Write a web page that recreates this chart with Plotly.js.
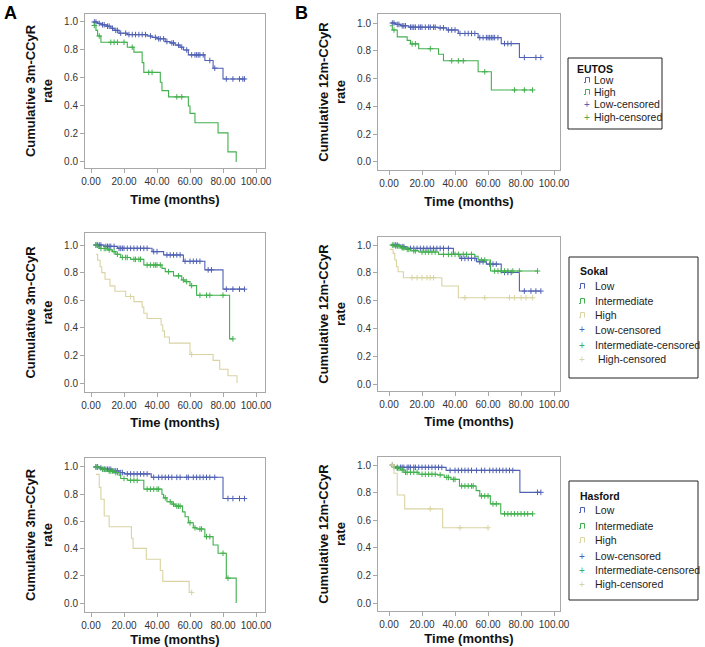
<!DOCTYPE html>
<html><head><meta charset="utf-8">
<script src="https://cdn.plot.ly/plotly-3.0.1.min.js"></script>
<style>html,body{margin:0;padding:0;background:#fff}</style>
</head><body><div id="chart" style="width:705px;height:647px"></div>
<script>
// ---------- DATA (time in months, cumulative rate) ----------
// Panel A top: EUTOS, 3m-CCyR
const eutos3_low_t  = [1, 4, 6, 9, 12, 14, 17, 22, 34, 37, 40, 45, 48, 51, 54, 56, 59, 69, 74, 80];
const eutos3_low_s  = [1.00, 0.99, 0.98, 0.97, 0.955, 0.94, 0.92, 0.91, 0.90, 0.89, 0.88, 0.86, 0.85, 0.835, 0.82, 0.80, 0.765, 0.725, 0.67, 0.593];
const eutos3_low_c  = [2, 3, 5, 7, 8, 10, 11, 13, 15, 16, 18, 21, 23, 25, 27, 29, 31, 33, 36, 39, 41, 42, 44, 46, 49, 50, 53, 55, 58, 61, 63, 64, 65, 66, 68, 72, 75, 82, 86, 90, 92, 93];
const eutos3_high_t = [1, 3, 4, 6, 22, 26, 31, 32, 42, 43, 47, 59, 60, 63, 77, 83, 88];
const eutos3_high_s = [0.975, 0.94, 0.90, 0.855, 0.82, 0.785, 0.71, 0.64, 0.57, 0.51, 0.465, 0.40, 0.347, 0.28, 0.208, 0.072, 0.0];
const eutos3_high_c = [2, 5, 12, 14, 16, 20, 25, 35, 37, 52, 55];

// Panel B top: EUTOS, 12m-CCyR
const eutos12_low_t  = [1, 4, 7, 12, 30, 35, 42, 54, 68, 79];
const eutos12_low_s  = [1.00, 0.99, 0.98, 0.97, 0.965, 0.95, 0.925, 0.895, 0.852, 0.752];
const eutos12_low_c  = [2, 3, 5, 6, 8, 9, 10, 13, 14, 15, 16, 18, 19, 20, 22, 24, 25, 27, 28, 31, 33, 36, 38, 40, 43, 46, 48, 50, 52, 55, 57, 59, 60, 61, 62, 63, 64, 66, 70, 72, 74, 82, 89, 92];
const eutos12_high_t = [0.5, 2, 5, 11, 13, 18, 30, 33, 54, 62];
const eutos12_high_s = [0.98, 0.95, 0.90, 0.875, 0.85, 0.815, 0.775, 0.728, 0.649, 0.518];
const eutos12_high_c = [3, 14, 16, 25, 38, 42, 45, 58, 76, 82, 87];

// Panel A middle: Sokal, 3m-CCyR
const sokal3_low_t  = [2, 8, 16, 37, 44, 56, 69, 80];
const sokal3_low_s  = [1.0, 0.99, 0.976, 0.952, 0.928, 0.882, 0.82, 0.68];
const sokal3_low_c  = [3, 4, 5, 6, 9, 10, 11, 12, 14, 17, 18, 19, 20, 22, 24, 26, 28, 30, 32, 34, 38, 40, 46, 48, 50, 52, 54, 57, 60, 62, 64, 66, 71, 73, 82, 86, 90, 93];
const sokal3_int_t  = [2, 4, 5, 10, 13, 15, 18, 24, 32, 43, 45, 50, 55, 57, 60, 64, 84];
const sokal3_int_s  = [1.0, 0.988, 0.975, 0.965, 0.952, 0.933, 0.91, 0.896, 0.855, 0.831, 0.807, 0.776, 0.747, 0.735, 0.706, 0.636, 0.32];
const sokal3_int_c  = [3, 6, 8, 9, 11, 14, 16, 19, 21, 22, 26, 27, 29, 30, 34, 36, 38, 39, 40, 42, 47, 53, 56, 58, 61, 66, 70, 72, 80, 86];
const sokal3_high_t = [3, 4, 5.5, 6.5, 8.5, 11.5, 14.5, 21, 26, 31, 32, 34, 42.5, 43.5, 44.5, 47.5, 60, 74, 78, 83, 88.5];
const sokal3_high_s = [0.933, 0.89, 0.843, 0.80, 0.752, 0.704, 0.665, 0.627, 0.59, 0.55, 0.506, 0.467, 0.42, 0.378, 0.333, 0.289, 0.207, 0.164, 0.10, 0.053, 0.0];
const sokal3_high_c = [24, 61];

// Panel B middle: Sokal, 12m-CCyR
const sokal12_low_t  = [1, 7, 11, 39, 43, 53, 59, 68, 79];
const sokal12_low_s  = [1.0, 0.988, 0.976, 0.933, 0.904, 0.88, 0.863, 0.803, 0.669];
const sokal12_low_c  = [3, 4, 5, 8, 9, 13, 15, 17, 19, 21, 23, 25, 27, 29, 31, 33, 36, 44, 46, 48, 50, 52, 55, 57, 61, 63, 65, 70, 72, 74, 82, 86, 89, 92];
const sokal12_int_t  = [1, 3, 7, 10, 13, 18, 30, 52, 54, 61.5];
const sokal12_int_s  = [1.0, 0.993, 0.98, 0.969, 0.959, 0.95, 0.933, 0.92, 0.892, 0.813];
const sokal12_int_c  = [2, 4, 5, 6, 8, 9, 11, 12, 15, 16, 20, 22, 24, 26, 28, 33, 36, 38, 40, 42, 45, 47, 50, 56, 58, 64, 66, 68, 70, 72, 75, 79, 90];
const sokal12_high_t = [0.5, 2.5, 3.5, 4.5, 5.5, 8.7, 32, 42];
const sokal12_high_s = [0.969, 0.94, 0.892, 0.844, 0.808, 0.765, 0.705, 0.621];
const sokal12_high_c = [14, 17, 20, 23, 25, 27, 46, 58, 73, 76, 80, 83, 87];

// Panel A bottom: Hasford, 3m-CCyR
const hasford3_low_t  = [2, 5, 7, 13, 17, 20, 36.5, 80];
const hasford3_low_s  = [1.0, 0.993, 0.983, 0.971, 0.959, 0.949, 0.924, 0.768];
const hasford3_low_c  = [3, 4, 6, 8, 9, 10, 11, 12, 14, 15, 16, 18, 19, 22, 24, 26, 28, 30, 32, 34, 38, 41, 43, 45, 47, 49, 52, 54, 58, 59, 62, 64, 66, 68, 70, 72, 75, 83, 86, 90, 93];
const hasford3_int_t  = [2, 5.5, 9.5, 14.5, 17, 18, 22, 32, 43, 44, 46, 49, 51, 55.5, 57, 59, 62, 64, 69, 74, 77, 82, 88];
const hasford3_int_s  = [1.0, 0.983, 0.97, 0.959, 0.94, 0.915, 0.902, 0.837, 0.80, 0.773, 0.744, 0.727, 0.712, 0.67, 0.634, 0.59, 0.553, 0.544, 0.488, 0.427, 0.366, 0.183, 0.0];
const hasford3_int_c  = [3, 4, 7, 8, 11, 12, 13, 15, 16, 20, 24, 26, 28, 34, 36, 38, 40, 41, 45, 48, 50, 52, 53, 54, 60, 63, 66, 67, 70, 72, 80, 83];
const hasford3_high_t = [3, 5, 6, 8, 11, 24.5, 25.5, 33.5, 42, 43.5, 59.5];
const hasford3_high_s = [0.946, 0.85, 0.763, 0.64, 0.561, 0.476, 0.402, 0.322, 0.239, 0.159, 0.078];
const hasford3_high_c = [61];

// Panel B bottom: Hasford, 12m-CCyR
const hasford12_low_t  = [1, 3, 34.6, 79.3];
const hasford12_low_s  = [1.0, 0.983, 0.961, 0.802];
const hasford12_low_c  = [2, 5, 7, 8, 9, 11, 12, 13, 15, 16, 18, 20, 22, 24, 26, 28, 30, 32, 37, 40, 42, 44, 46, 48, 50, 53, 56, 58, 61, 63, 65, 67, 69, 71, 73, 75, 90, 92];
const hasford12_int_t  = [1, 2, 4.7, 7, 9, 18, 29.5, 33.5, 37.5, 42.7, 52.8, 55, 61.4, 67.7];
const hasford12_int_s  = [1.0, 0.988, 0.976, 0.964, 0.947, 0.933, 0.928, 0.91, 0.896, 0.848, 0.814, 0.776, 0.718, 0.646];
const hasford12_int_c  = [3, 5, 6, 8, 10, 11, 13, 15, 17, 20, 22, 24, 26, 28, 31, 35, 36, 39, 40, 44, 46, 48, 50, 51, 56, 58, 60, 63, 65, 70, 72, 74, 76, 78, 80, 82, 84, 87];
const hasford12_high_t = [1, 3, 5, 9.5, 32.5];
const hasford12_high_s = [1.0, 0.94, 0.783, 0.682, 0.545];
const hasford12_high_c = [2, 25, 43, 60];

const xTicks = [0, 20, 40, 60, 80, 100];
const yTicks = [0, 0.2, 0.4, 0.6, 0.8, 1.0];
const xTitle = 'Time (months)';
const yTitle3 = 'Cumulative 3m-CCyR<br>rate';
const yTitle12 = 'Cumulative 12m-CCyR<br>rate';

// ---------- STYLE ----------
const C = {low: '#5061b3', int: '#42b04e', high: '#d9d4a2'};
const W = 705, H = 647;
const FONT = 'Arial, "Liberation Sans", sans-serif';
const px = x => x / W;
const py = y => 1 - y / H;

function stepAt(t, s, c) {
  let v = s[0];
  for (let i = 0; i < t.length; i++) if (t[i] <= c) v = s[i];
  return v;
}

const traces = [];
function addGroup(t, s, c, color, xa, ya) {
  const end = Math.max(t[t.length - 1], ...c);
  traces.push({type: 'scatter', mode: 'lines', x: t.concat([end]), y: s.concat([s[s.length - 1]]),
    line: {shape: 'hv', color: color, width: 1.1}, xaxis: xa, yaxis: ya, showlegend: false, hoverinfo: 'skip'});
  traces.push({type: 'scatter', mode: 'markers', x: c, y: c.map(v => stepAt(t, s, v)),
    marker: {symbol: 'cross-thin', size: 4, color: color, line: {color: color, width: 1}},
    xaxis: xa, yaxis: ya, showlegend: false, hoverinfo: 'skip'});
}

const panels = [
  {n: 1, xd: [85, 265], yd: [14, 168], xr: [-3.64, 105.45], yr: [-0.043, 1.057], yt: yTitle3, xs: 8, ys: 8,
   groups: [[eutos3_low_t, eutos3_low_s, eutos3_low_c, C.low], [eutos3_high_t, eutos3_high_s, eutos3_high_c, C.int]]},
  {n: 2, xd: [378, 560], yd: [14, 170], xr: [-6.67, 103.6], yr: [-0.058, 1.065], yt: yTitle12, xs: 8, ys: 8,
   groups: [[eutos12_low_t, eutos12_low_s, eutos12_low_c, C.low], [eutos12_high_t, eutos12_high_s, eutos12_high_c, C.int]]},
  {n: 3, xd: [85, 265], yd: [233, 392], xr: [-3.64, 105.45], yr: [-0.065, 1.087], yt: yTitle3, xs: 7, ys: 8,
   groups: [[sokal3_low_t, sokal3_low_s, sokal3_low_c, C.low], [sokal3_int_t, sokal3_int_s, sokal3_int_c, C.int], [sokal3_high_t, sokal3_high_s, sokal3_high_c, C.high]]},
  {n: 4, xd: [378, 560], yd: [237, 391], xr: [-6.67, 103.6], yr: [-0.05, 1.058], yt: yTitle12, xs: 7, ys: 8,
   groups: [[sokal12_low_t, sokal12_low_s, sokal12_low_c, C.low], [sokal12_int_t, sokal12_int_s, sokal12_int_c, C.int], [sokal12_high_t, sokal12_high_s, sokal12_high_c, C.high]]},
  {n: 5, xd: [85, 265], yd: [458, 612], xr: [-3.64, 105.45], yr: [-0.066, 1.066], yt: yTitle3, xs: 4, ys: 8,
   groups: [[hasford3_low_t, hasford3_low_s, hasford3_low_c, C.low], [hasford3_int_t, hasford3_int_s, hasford3_int_c, C.int], [hasford3_high_t, hasford3_high_s, hasford3_high_c, C.high]]},
  {n: 6, xd: [378, 560], yd: [457, 611], xr: [-6.67, 103.6], yr: [-0.058, 1.058], yt: yTitle12, xs: 4, ys: 8,
   groups: [[hasford12_low_t, hasford12_low_s, hasford12_low_c, C.low], [hasford12_int_t, hasford12_int_s, hasford12_int_c, C.int], [hasford12_high_t, hasford12_high_s, hasford12_high_c, C.high]]}
];

const layout = {
  width: W, height: H, margin: {l: 0, r: 0, t: 0, b: 0},
  paper_bgcolor: '#ffffff', plot_bgcolor: '#ffffff',
  font: {family: FONT, color: '#222'}, showlegend: false,
  shapes: [], annotations: []
};

const axLine = '#a8a8a8';
panels.forEach(p => {
  const sx = p.n === 1 ? '' : p.n;
  const xa = 'x' + sx, ya = 'y' + sx;
  layout['xaxis' + sx] = {
    domain: [px(p.xd[0]), px(p.xd[1])], range: p.xr, anchor: ya,
    tickvals: xTicks, tickformat: '.2f', ticks: 'outside', ticklen: 4, tickcolor: axLine,
    showline: true, mirror: true, linecolor: axLine, linewidth: 1, showgrid: false, zeroline: false,
    tickfont: {size: 10, color: '#333', family: FONT}, fixedrange: true,
    title: {text: xTitle, standoff: p.xs, font: {size: 13, weight: 'bold', color: '#111', family: FONT}}
  };
  layout['yaxis' + sx] = {
    domain: [py(p.yd[1]), py(p.yd[0])], range: p.yr, anchor: xa,
    tickvals: yTicks, tickformat: '.1f', ticks: 'outside', ticklen: 4, tickcolor: axLine,
    showline: true, mirror: true, linecolor: axLine, linewidth: 1, showgrid: false, zeroline: false,
    tickfont: {size: 10, color: '#333', family: FONT}, fixedrange: true,
    title: {text: p.yt, standoff: p.ys, font: {size: 13, weight: 'bold', color: '#111', family: FONT}}
  };
  p.groups.forEach(g => addGroup(g[0], g[1], g[2], g[3], xa, ya));
});

// panel letters
layout.annotations.push({text: '<b>A</b>', x: px(2), y: py(1), xref: 'paper', yref: 'paper', xanchor: 'left', yanchor: 'top', showarrow: false, font: {size: 18, color: '#000'}});
layout.annotations.push({text: '<b>B</b>', x: px(293), y: py(1), xref: 'paper', yref: 'paper', xanchor: 'left', yanchor: 'top', showarrow: false, font: {size: 18, color: '#000'}});

// ---------- legends (boxes drawn in paper space) ----------
const legEutos = {title: 'EUTOS', labels: ['Low', 'High', 'Low-censored', 'High-censored'], colors: [C.low, C.int, C.low, C.int], kinds: ['step', 'step', 'plus', 'plus']};
const legSokal = {title: 'Sokal', labels: ['Low', 'Intermediate', 'High', 'Low-censored', 'Intermediate-censored', ' High-censored'], colors: [C.low, C.int, C.high, C.low, C.int, C.high], kinds: ['step', 'step', 'step', 'plus', 'plus', 'plus']};
const legHasford = {title: 'Hasford', labels: ['Low', 'Intermediate', 'High', 'Low-censored', 'Intermediate-censored', 'High-censored'], colors: [C.low, C.int, C.high, C.low, C.int, C.high], kinds: ['step', 'step', 'step', 'plus', 'plus', 'plus']};

function drawLegend(L, box) {
  layout.shapes.push({type: 'rect', xref: 'paper', yref: 'paper', x0: px(box.l), x1: px(box.r), y0: py(box.b), y1: py(box.t), line: {color: '#222', width: 1}});
  layout.annotations.push({text: '<b>' + L.title + '</b>', xref: 'paper', yref: 'paper', x: px(box.tx), y: py(box.ty), xanchor: 'left', yanchor: 'middle', showarrow: false, font: {size: 10.5, color: '#111'}});
  L.labels.forEach((lab, i) => {
    const yc = box.ys[i];
    if (L.kinds[i] === 'step') {
      const x0 = box.ix;
      const path = `M ${px(x0)},${py(yc + 2.5)} L ${px(x0 + 1.5)},${py(yc + 2.5)} L ${px(x0 + 1.5)},${py(yc - 2.5)} L ${px(x0 + 5.5)},${py(yc - 2.5)} L ${px(x0 + 5.5)},${py(yc + 2.5)}`;
      layout.shapes.push({type: 'path', xref: 'paper', yref: 'paper', path: path, line: {color: L.colors[i], width: 1}});
    } else {
      layout.annotations.push({text: '+', xref: 'paper', yref: 'paper', x: px(box.ix + 3), y: py(yc), xanchor: 'center', yanchor: 'middle', showarrow: false, font: {size: 10, color: L.colors[i]}});
    }
    layout.annotations.push({text: lab, xref: 'paper', yref: 'paper', x: px(box.lx), y: py(yc), xanchor: 'left', yanchor: 'middle', showarrow: false, font: {size: 10.5, color: '#222'}});
  });
}
drawLegend(legEutos, {l: 568, r: 662, t: 58, b: 129, tx: 575, ty: 69, ix: 584, lx: 592, ys: [80, 92, 104, 117]});
drawLegend(legSokal, {l: 569, r: 698, t: 257, b: 378, tx: 578, ty: 271, ix: 579, lx: 593, ys: [286, 301, 315, 330, 345, 359]});
drawLegend(legHasford, {l: 569, r: 698, t: 481, b: 600, tx: 578, ty: 496, ix: 579, lx: 593, ys: [510, 526, 540, 556, 570, 584]});

Plotly.newPlot('chart', traces, layout, {staticPlot: true, displayModeBar: false});
</script>
</body></html>
